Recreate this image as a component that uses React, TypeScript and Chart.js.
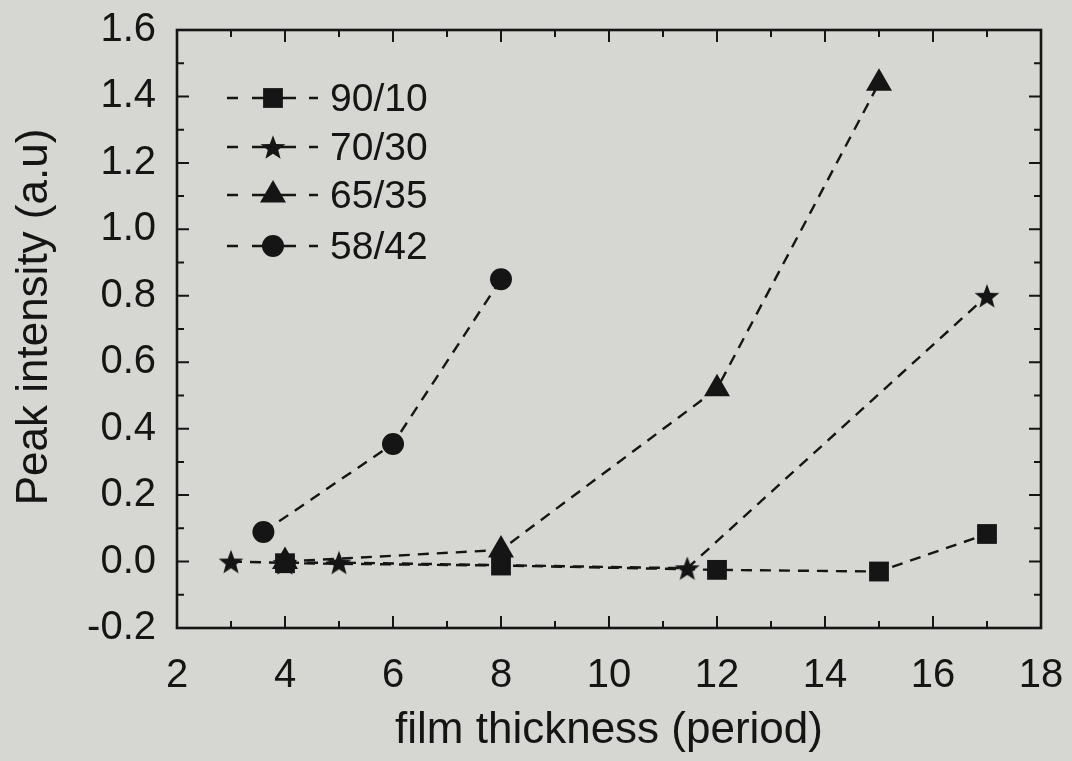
import React, { useEffect, useRef } from "react";
import { Chart, registerables } from "chart.js";
import { drawPoint } from "chart.js/helpers";

Chart.register(...registerables);

// ---- data ----
const seriesLabels = ["90/10", "70/30", "65/35", "58/42"];
const x9010 = [4, 8, 12, 15, 17];
const y9010 = [-0.005, -0.012, -0.025, -0.03, 0.083];
const x7030 = [3, 4, 5, 11.45, 17];
const y7030 = [0.0, -0.004, -0.003, -0.02, 0.8];
const x6535 = [4, 8, 12, 15];
const y6535 = [0.0, 0.035, 0.52, 1.44];
const x5842 = [3.6, 6, 8];
const y5842 = [0.089, 0.354, 0.85];

const xMin = 2, xMax = 18, xStep = 2, xMinor = 1;
const yMin = -0.2, yMax = 1.6, yStep = 0.2, yMinor = 0.1;
const xTitle = "film thickness (period)";
const yTitle = "Peak intensity (a.u)";

const INK = "#151515";
const BG = "#d6d7d2";
const FONT = "'Liberation Sans', Arial, sans-serif";

function makeStar(r: number, color: string): HTMLCanvasElement {
  const size = Math.ceil(r * 2 + 4);
  const c = document.createElement("canvas");
  c.width = size;
  c.height = size;
  const ctx = c.getContext("2d")!;
  ctx.fillStyle = color;
  ctx.beginPath();
  const cx = size / 2, cy = size / 2 + r * 0.1;
  for (let i = 0; i < 10; i++) {
    const rad = i % 2 === 0 ? r : r * 0.42;
    const a = -Math.PI / 2 + (i * Math.PI) / 5;
    const px = cx + rad * Math.cos(a), py = cy + rad * Math.sin(a);
    if (i === 0) ctx.moveTo(px, py);
    else ctx.lineTo(px, py);
  }
  ctx.closePath();
  ctx.fill();
  return c;
}

const pts = (xs: number[], ys: number[]) => xs.map((x, i) => ({ x, y: ys[i] }));

export default function App() {
  const ref = useRef<HTMLCanvasElement>(null);
  useEffect(() => {
    document.body.style.margin = "0";
    document.body.style.background = BG;
    const star = makeStar(13, INK);
    const common = {
      showLine: true,
      borderColor: INK,
      backgroundColor: INK,
      borderWidth: 2.4,
      borderDash: [11, 8],
      pointBorderWidth: 0,
      pointBorderColor: INK,
      pointBackgroundColor: INK,
      fill: false,
      tension: 0,
    };
    const frame = {
      id: "frame",
      afterDatasetsDraw(chart: any) {
        const { ctx, chartArea: a, scales } = chart;
        const xs = scales.x, ys = scales.y;
        ctx.save();
        ctx.strokeStyle = INK;
        ctx.lineWidth = 2;
        ctx.setLineDash([]);
        for (let v = xMin; v <= xMax + 1e-9; v += xMinor) {
          const px = xs.getPixelForValue(v);
          const major = Math.abs((v - xMin) / xStep - Math.round((v - xMin) / xStep)) < 1e-6;
          const len = major ? 12 : 7;
          ctx.beginPath();
          ctx.moveTo(px, a.bottom);
          ctx.lineTo(px, a.bottom - len);
          ctx.moveTo(px, a.top);
          ctx.lineTo(px, a.top + len);
          ctx.stroke();
        }
        for (let i = 0; i <= Math.round((yMax - yMin) / yMinor); i++) {
          const v = yMin + i * yMinor;
          const py = ys.getPixelForValue(v);
          const len = i % 2 === 0 ? 12 : 7;
          ctx.beginPath();
          ctx.moveTo(a.left, py);
          ctx.lineTo(a.left + len, py);
          ctx.moveTo(a.right, py);
          ctx.lineTo(a.right - len, py);
          ctx.stroke();
        }
        ctx.lineWidth = 2.6;
        ctx.strokeRect(a.left, a.top, a.right - a.left, a.bottom - a.top);

        // axis titles
        ctx.fillStyle = INK;
        ctx.font = `44px ${FONT}`;
        ctx.textAlign = "center";
        ctx.textBaseline = "alphabetic";
        ctx.fillText(xTitle, 609, 743);
        ctx.save();
        ctx.translate(47, 317);
        ctx.rotate(-Math.PI / 2);
        ctx.fillText(yTitle, 0, 0);
        ctx.restore();

        // legend
        const rows = [98, 147, 195, 246];
        const segs = [[227, 238], [252, 266], [280, 296], [309, 318]];
        ctx.font = `39px ${FONT}`;
        ctx.textAlign = "left";
        ctx.textBaseline = "middle";
        chart.data.datasets.forEach((ds: any, i: number) => {
          const y = rows[i];
          ctx.save();
          ctx.lineWidth = 2.4;
          ctx.beginPath();
          segs.forEach(([s, e]) => {
            ctx.moveTo(s, y);
            ctx.lineTo(e, y);
          });
          ctx.stroke();
          ctx.restore();
          ctx.fillStyle = INK;
          drawPoint(ctx, { pointStyle: ds.pointStyle, radius: ds.pointRadius, rotation: 0, borderWidth: 0 }, 273, y);
          ctx.fillStyle = INK;
          ctx.fillText(ds.label, 330, y + 2);
        });
        ctx.restore();
      },
    };
    const chart = new Chart(ref.current!, {
      type: "scatter",
      data: {
        datasets: [
          { ...common, label: seriesLabels[0], data: pts(x9010, y9010), pointStyle: "rect", pointRadius: 14 },
          { ...common, label: seriesLabels[1], data: pts(x7030, y7030), pointStyle: star as any, pointRadius: 13 },
          { ...common, label: seriesLabels[2], data: pts(x6535, y6535), pointStyle: "triangle", pointRadius: 15 },
          { ...common, label: seriesLabels[3], data: pts(x5842, y5842), pointStyle: "circle", pointRadius: 11 },
        ] as any,
      },
      options: {
        animation: false,
        responsive: false,
        maintainAspectRatio: false,
        layout: { padding: { top: 30, right: 31, left: 0, bottom: 0 } },
        plugins: { legend: { display: false }, tooltip: { enabled: false } },
        scales: {
          x: {
            type: "linear",
            min: xMin,
            max: xMax,
            grid: { display: false },
            border: { display: false },
            ticks: { stepSize: xStep, color: INK, padding: 16, font: { family: FONT, size: 40 } },
            afterFit(s: any) {
              s.height = 133;
              s.paddingLeft = 0;
              s.paddingRight = 0;
            },
          },
          y: {
            type: "linear",
            min: yMin,
            max: yMax,
            grid: { display: false },
            border: { display: false },
            ticks: {
              stepSize: yStep,
              color: INK,
              padding: 13,
              font: { family: FONT, size: 40 },
              callback: (v: any) => Number(v).toFixed(1),
            },
            afterFit(s: any) {
              s.width = 177;
              s.paddingTop = 0;
              s.paddingBottom = 0;
            },
          },
        },
      } as any,
      plugins: [frame],
    });
    return () => chart.destroy();
  }, []);
  return (
    <div style={{ position: "absolute", left: 0, top: 0, width: 1072, height: 761, background: BG }}>
      <canvas ref={ref} width={1072} height={761} style={{ width: 1072, height: 761 }} />
    </div>
  );
}
